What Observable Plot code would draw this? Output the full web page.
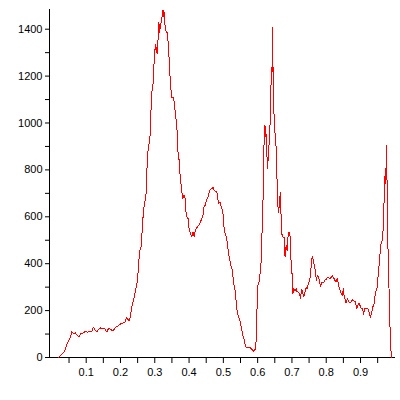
<!DOCTYPE html>
<html><head><meta charset="utf-8">
<script src="https://cdn.jsdelivr.net/npm/d3@7"></script>
<script src="https://cdn.jsdelivr.net/npm/@observablehq/plot@0.6"></script>
<style>body{margin:0;background:#fff;}</style>
</head><body><div id="chart"></div>
<script>
const xs = [0.019,0.029,0.036,0.041,0.045,0.050,0.055,0.058,0.063,0.068,
0.073,0.078,0.085,0.092,0.099,0.104,0.112,0.117,0.121,0.126,
0.131,0.136,0.141,0.148,0.155,0.160,0.165,0.172,0.178,0.185,
0.191,0.199,0.207,0.214,0.217,0.222,0.226,0.230,0.234,0.238,
0.243,0.248,0.253,0.255,0.260,0.264,0.267,0.272,0.275,0.277,
0.280,0.284,0.287,0.289,0.292,0.295,0.297,0.300,0.302,0.305,
0.307,0.310,0.312,0.314,0.316,0.319,0.322,0.324,0.325,0.327,
0.330,0.332,0.336,0.339,0.342,0.345,0.349,0.355,0.360,0.365,
0.367,0.371,0.373,0.376,0.379,0.382,0.384,0.387,0.389,0.391,
0.394,0.397,0.398,0.401,0.404,0.408,0.412,0.415,0.418,0.423,
0.428,0.432,0.437,0.440,0.443,0.447,0.451,0.455,0.459,0.462,
0.467,0.470,0.472,0.476,0.481,0.484,0.486,0.490,0.494,0.497,
0.500,0.502,0.505,0.509,0.512,0.515,0.519,0.522,0.525,0.528,
0.531,0.535,0.537,0.540,0.543,0.546,0.549,0.552,0.555,0.558,
0.561,0.564,0.567,0.573,0.578,0.583,0.588,0.593,0.596,0.598,
0.601,0.605,0.607,0.610,0.612,0.615,0.617,0.620,0.622,0.623,
0.625,0.627,0.629,0.632,0.634,0.637,0.640,0.642,0.643,0.645,
0.646,0.649,0.653,0.656,0.658,0.661,0.664,0.666,0.668,0.670,
0.674,0.677,0.680,0.683,0.686,0.688,0.691,0.694,0.696,0.698,
0.701,0.703,0.706,0.709,0.712,0.714,0.717,0.722,0.725,0.728,
0.731,0.734,0.737,0.741,0.745,0.748,0.752,0.755,0.757,0.760,
0.763,0.766,0.769,0.771,0.774,0.777,0.780,0.783,0.787,0.792,
0.795,0.800,0.804,0.808,0.812,0.818,0.822,0.825,0.829,0.832,
0.835,0.838,0.841,0.844,0.847,0.850,0.852,0.855,0.858,0.862,
0.865,0.868,0.872,0.876,0.880,0.885,0.889,0.892,0.896,0.899,
0.902,0.906,0.909,0.912,0.917,0.920,0.923,0.929,0.933,0.936,
0.940,0.943,0.948,0.952,0.957,0.960,0.965,0.967,0.970,0.972,
0.974,0.975,0.977,0.980,0.984,0.987,0.990];
const ys = [0,14,24,45,60,74,91,109,102,105,
95,88,102,105,113,107,113,112,130,116,
109,119,126,124,121,109,124,119,113,128,
133,142,147,152,170,162,156,187,223,244,
280,315,386,450,471,556,628,670,706,798,
876,919,954,1054,1139,1167,1231,1302,1334,1317,
1295,1366,1430,1387,1409,1434,1458,1483,1454,1473,
1416,1395,1385,1345,1270,1184,1110,1108,1045,968,
883,841,791,748,706,677,692,692,670,620,
599,592,571,542,528,517,535,517,542,554,
564,573,592,599,642,649,673,684,706,717,
720,727,716,710,706,677,656,663,642,628,
606,556,528,514,486,443,415,393,379,343,
308,280,244,201,180,166,152,130,109,88,
74,52,41,41,43,35,27,35,74,201,
308,326,358,407,507,599,812,990,940,985,
940,862,805,883,926,1018,1238,1217,1409,1217,
1125,976,926,791,663,620,663,706,620,528,
514,511,429,478,457,507,535,535,443,400,
343,273,294,282,294,280,280,273,251,290,
280,258,273,298,294,315,329,369,415,432,
407,386,365,329,351,346,329,304,318,318,
329,334,343,339,337,349,339,329,322,337,
318,294,284,273,265,294,265,247,233,251,
240,233,237,247,241,237,209,223,233,219,
211,211,184,209,209,211,202,170,194,216,
230,273,294,358,443,486,503,615,699,805,
741,905,784,471,244,74,0];
const xDomain = [-0.007, 1.002];
const yDomain = [0, 1484];
const yLabelTicks = [0,200,400,600,800,1000,1200,1400];
const yMinorTicks = [100,300,500,700,900,1100,1300];
const xLabelTicks = [0.1,0.2,0.3,0.4,0.5,0.6,0.7,0.8,0.9];
const xMinorTicks = [0.05,0.15,0.25,0.35,0.45,0.55,0.65,0.75,0.85,0.95];

const data = xs.map((x, i) => ({x, y: ys[i]}));

const chart = Plot.plot({
  width: 400, height: 400,
  marginLeft: 49, marginRight: 5, marginTop: 9, marginBottom: 43,
  style: {fontFamily: "'Liberation Sans', Arial, sans-serif", fontSize: "11px", background: "#fff", color: "#000"},
  x: {domain: xDomain},
  y: {domain: yDomain},
  marks: [
    Plot.axisY(yLabelTicks, {tickSize: 4, tickPadding: 3, label: null, tickFormat: "d"}),
    Plot.axisY(yMinorTicks, {tickSize: 4, text: null, label: null}),
    Plot.axisX(xLabelTicks, {tickSize: 6, tickPadding: 5, label: null, tickFormat: ".1f"}),
    Plot.axisX(xMinorTicks, {tickSize: 6, text: null, label: null}),
    Plot.ruleY([0], {stroke: "#000"}),
    Plot.ruleX([xDomain[0]], {stroke: "#000"}),
    Plot.line(data, {x: "x", y: "y", stroke: "#ff0000", strokeWidth: 1, shapeRendering: "crispEdges"})
  ]
});
document.getElementById("chart").appendChild(chart);
</script>
</body></html>
